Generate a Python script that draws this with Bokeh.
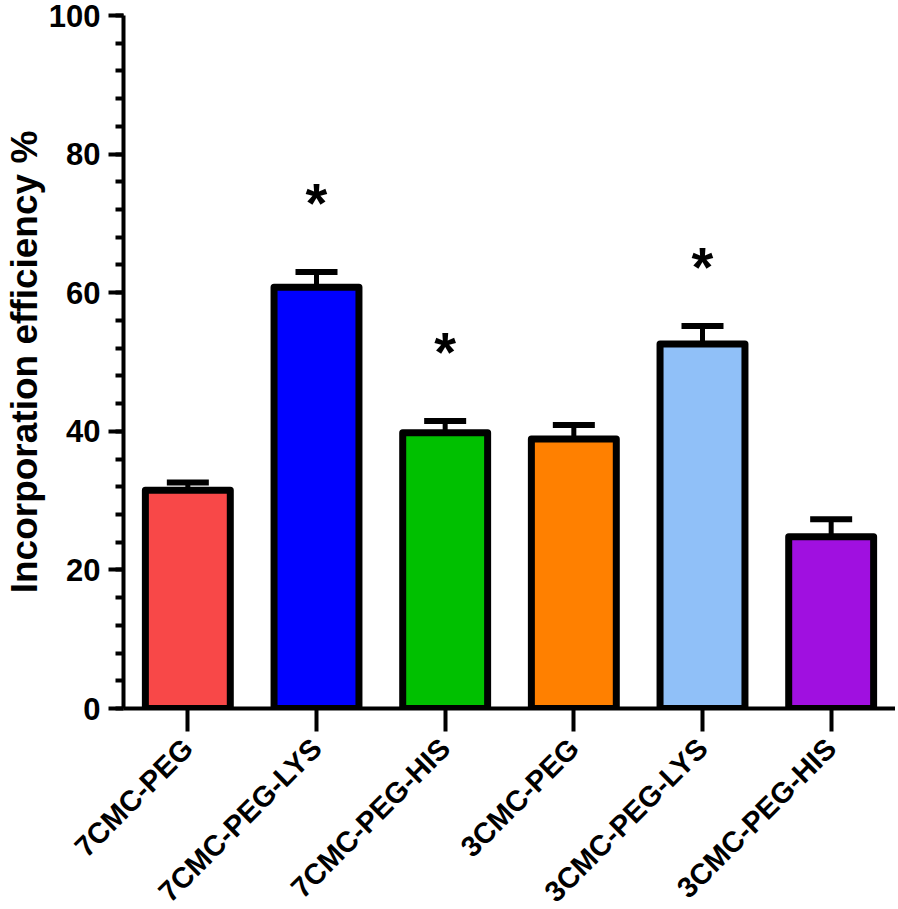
import math
from bokeh.plotting import figure
from bokeh.models import (ColumnDataSource, Range1d, FactorRange, SingleIntervalTicker,
                          Whisker, TeeHead)
from bokeh.core.properties import value
from bokeh.embed import file_html
from bokeh.resources import INLINE

categories = ["7CMC-PEG", "7CMC-PEG-LYS", "7CMC-PEG-HIS",
              "3CMC-PEG", "3CMC-PEG-LYS", "3CMC-PEG-HIS"]
means = [31.5, 60.8, 39.8, 38.9, 52.6, 24.8]
errors = [1.1, 2.2, 1.7, 2.0, 2.6, 2.5]
colors = ["#F84848", "#0000FF", "#00C000", "#FF8000", "#90C0F8", "#A010E0"]
significant = ["7CMC-PEG-LYS", "7CMC-PEG-HIS", "3CMC-PEG-LYS"]
star_levels = [73.0, 51.5, 63.8]
y_ticks_interval = 20

FONT = "Liberation Sans"

p = figure(x_range=FactorRange(*categories, range_padding=0),
           y_range=Range1d(0, 100),
           width=895, height=922,
           output_backend="svg", toolbar_location=None,
           min_border_left=122, min_border_right=0,
           min_border_top=15, min_border_bottom=214)
p.outline_line_color = None
p.xgrid.grid_line_color = None
p.ygrid.grid_line_color = None
p.background_fill_color = "white"

upper = [m + e for m, e in zip(means, errors)]
src = ColumnDataSource(dict(x=categories, top=means, color=colors, upper=upper))

p.vbar(x="x", top="top", width=0.66, source=src, fill_color="color",
       line_color="black", line_width=7, line_join="round")

wh = Whisker(base="x", lower="top", upper="upper", source=src,
             line_width=5, line_color="black",
             upper_head=TeeHead(size=42, line_width=6, line_color="black"),
             lower_head=None)
p.add_layout(wh)

p.text(x=significant, y=star_levels, text=["*"] * len(significant),
       text_font=value(FONT), text_font_size="56px", text_font_style="bold",
       text_align="center", text_baseline="alphabetic", text_color="black")

# y axis
p.yaxis.ticker = SingleIntervalTicker(interval=y_ticks_interval, num_minor_ticks=5)
p.yaxis.axis_label = "Incorporation efficiency %"
p.yaxis.axis_label_text_font = FONT
p.yaxis.axis_label_text_font_size = "37px"
p.yaxis.axis_label_text_font_style = "bold"
p.yaxis.axis_label_text_color = "black"
p.yaxis.axis_label_standoff = 1
p.yaxis.major_label_text_font = FONT
p.yaxis.major_label_text_font_size = "31px"
p.yaxis.major_label_text_font_style = "bold"
p.yaxis.major_label_text_color = "black"
p.yaxis.major_label_standoff = 8
p.yaxis.axis_line_width = 4
p.yaxis.axis_line_color = "black"
p.yaxis.major_tick_line_width = 4
p.yaxis.major_tick_line_color = "black"
p.yaxis.major_tick_out = 15
p.yaxis.major_tick_in = 0
p.yaxis.minor_tick_line_width = 4
p.yaxis.minor_tick_line_color = "black"
p.yaxis.minor_tick_out = 8
p.yaxis.minor_tick_in = 0

# x axis
p.xaxis.axis_line_width = 4
p.xaxis.axis_line_color = "black"
p.xaxis.major_tick_line_width = 4
p.xaxis.major_tick_line_color = "black"
p.xaxis.major_tick_out = 23
p.xaxis.major_tick_in = 0
p.xaxis.major_label_orientation = math.pi / 4
p.xaxis.major_label_text_font = FONT
p.xaxis.major_label_text_font_size = "29px"
p.xaxis.major_label_text_font_style = "bold"
p.xaxis.major_label_text_color = "black"
p.xaxis.major_label_standoff = 12

open("out.html", "w").write(file_html(p, INLINE))
